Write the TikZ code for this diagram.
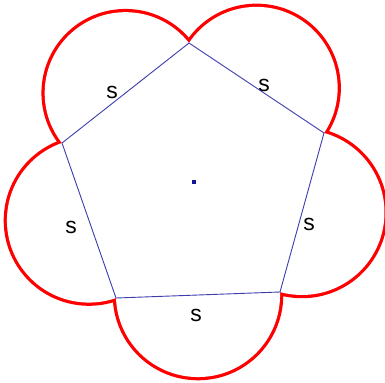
\documentclass[tikz,border=0pt]{standalone}
\usepackage{fontspec}
\setsansfont{Liberation Sans}
\usetikzlibrary{calc}
\definecolor{edgeblue}{RGB}{60,60,175}
\definecolor{dotnavy}{RGB}{20,20,150}

\begin{document}
\begin{tikzpicture}[x=1bp, y=-1bp,
    pentaside/.style={draw=edgeblue, line width=0.9bp},
    lobe/.style={draw=red, line width=6.5bp},
    sidelabel/.style={font=\sffamily\fontsize{23}{23}\selectfont, inner sep=0pt}]
  \useasboundingbox (0,0) rectangle (385,383);

  % corners of the pentagon
  \coordinate (top) at (189,43);
  \coordinate (right) at (324,133);
  \coordinate (lowright) at (280,292);
  \coordinate (lowleft) at (116,298);
  \coordinate (left) at (62,143);

  % one circle on every side, inner half of the stroke covered afterwards
  \foreach \a/\b in {left/top, top/right, right/lowright, lowright/lowleft, lowleft/left}
    \draw[lobe] let \p1=($(\a)-(\b)$), \n1={veclen(\x1,\y1)/2} in ($(\a)!0.5!(\b)$) circle[radius=\n1];
  \foreach \a/\b in {left/top, top/right, right/lowright, lowright/lowleft, lowleft/left}
    \fill[white] let \p1=($(\a)-(\b)$), \n1={veclen(\x1,\y1)/2} in ($(\a)!0.5!(\b)$) circle[radius=\n1];
  \fill[white] (top) -- (right) -- (lowright) -- (lowleft) -- (left) -- cycle;

  \draw[pentaside] (top) -- (right) -- (lowright) -- (lowleft) -- (left) -- cycle;

  \node (centre) at (194,182) [fill=dotnavy, minimum size=3.5bp, inner sep=0pt] {};

  \node[sidelabel] (s1) at (112,92) {s};
  \node[sidelabel] (s2) at (264,85) {s};
  \node[sidelabel] (s3) at (309,224) {s};
  \node[sidelabel] (s4) at (196,315) {s};
  \node[sidelabel] (s5) at (71,227) {s};
\end{tikzpicture}
\end{document}
